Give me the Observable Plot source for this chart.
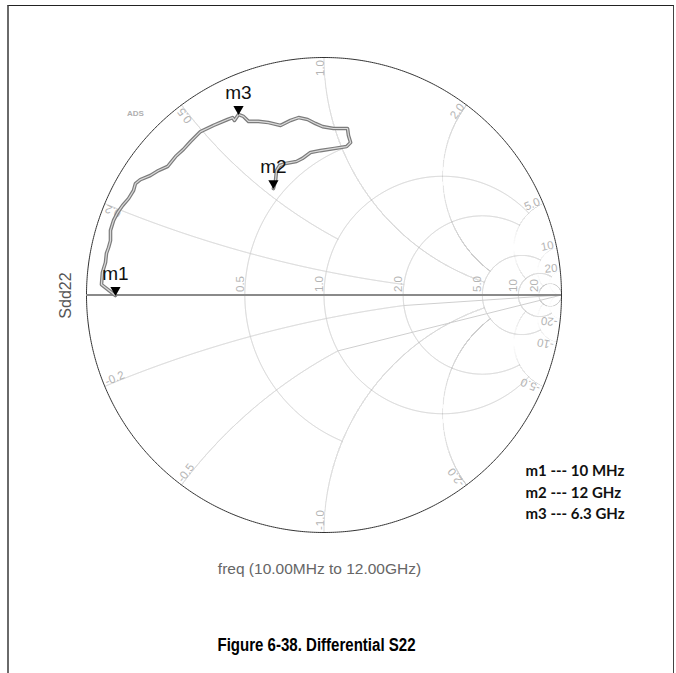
<!DOCTYPE html>
<html><head><meta charset="utf-8">
<script src="https://cdn.jsdelivr.net/npm/d3@7"></script>
<script src="https://cdn.jsdelivr.net/npm/@observablehq/plot@0.6"></script>
<style>
body{margin:0;background:#fff;}
#wrap{position:relative;width:676px;height:673px;overflow:hidden;background:#fff;}
#frame{position:absolute;left:7px;top:5px;width:664px;height:700px;border-top:1.5px solid #222;border-left:2px solid #6a6a6a;border-right:1.5px solid #444;pointer-events:none;}
#chart{position:absolute;left:0;top:0;}
</style></head><body>
<div id="wrap"><div id="chart"></div><div id="frame"></div></div>
<script>
const traceRe = [-0.878,-0.937,-0.933,-0.920,-0.916,-0.907,-0.899,-0.899,-0.886,-0.869,-0.848,-0.823,-0.802,-0.794,-0.773,-0.731,-0.697,-0.659,-0.625,-0.592,-0.562,-0.520,-0.465,-0.406,-0.385,-0.377,-0.360,-0.339,-0.318,-0.276,-0.234,-0.183,-0.141,-0.107,-0.069,-0.036,-0.006,0.040,0.099,0.103,0.112,0.095,0.044,-0.015,-0.057,-0.091,-0.116,-0.162,-0.187,-0.200,-0.204,-0.213];
const traceIm = [-0.002,0.044,0.095,0.137,0.175,0.200,0.229,0.272,0.314,0.347,0.377,0.406,0.440,0.469,0.486,0.503,0.524,0.541,0.583,0.613,0.646,0.688,0.714,0.739,0.747,0.735,0.760,0.752,0.731,0.731,0.726,0.714,0.735,0.747,0.739,0.722,0.709,0.701,0.701,0.672,0.642,0.625,0.617,0.608,0.600,0.575,0.562,0.554,0.545,0.524,0.482,0.448];
const markerNames = ["m1","m2","m3"];
const markerIndex = [0, 51, 26];
const markerFreqs = ["10 MHz","12 GHz","6.3 GHz"];
const resistanceValues = [0.5, 1, 2, 5, 10, 20];
const resistanceLabels = ["0.5","1.0","2.0","5.0","10","20"];
const resistanceClip = [1, 5, 5, 10, 20, Infinity];
const reactanceValues = [0.2, 0.5, 1, 2, 5, 10, 20];
const reactanceLabels = ["0.2","0.5","1.0","2.0","5.0","10","20"];
const reactanceClip = [2, 1, 5, 5, 10, 20, Infinity];
const traceName = "Sdd22";
const sweepText = "freq (10.00MHz to 12.00GHz)";
const figureCaption = "Figure 6-38. Differential S22";
const toolTag = "ADS";

// ---- build tables ----
const trace = traceRe.map((re, i) => ({re, im: traceIm[i]}));
const markers = markerNames.map((name, i) => ({name, ...trace[markerIndex[i]]}));
const legendText = markerNames.map((n, i) => `${n} --- ${markerFreqs[i]}`).join("\n");

function zOf(gx, gy) { const d = (1 - gx) ** 2 + gy ** 2; return [(1 - gx * gx - gy * gy) / d, 2 * gy / d]; }
const grid = [];
resistanceValues.forEach((r, i) => {
  const cx = r / (r + 1), rad = 1 / (r + 1), X = resistanceClip[i], N = 3000;
  for (let k = 1; k < N; k++) {
    const p = 2 * Math.PI * k / N, gx = cx + rad * Math.cos(p), gy = rad * Math.sin(p);
    const [, xx] = zOf(gx, gy);
    if (Math.abs(xx) <= X * 1.0005) grid.push({gx, gy, id: "r" + r});
  }
});
reactanceValues.forEach((xv, i) => {
  [xv, -xv].forEach(x => {
    const cy = 1 / x, rad = 1 / Math.abs(x), R = reactanceClip[i], N = 30000;
    for (let k = 0; k < N; k++) {
      const p = 2 * Math.PI * k / N, gx = 1 + rad * Math.cos(p), gy = cy + rad * Math.sin(p);
      if (gx * gx + gy * gy > 1.000001) continue;
      const [rr] = zOf(gx, gy);
      if (rr <= R * 1.0005) grid.push({gx, gy, id: "x" + x});
    }
  });
});
const outer = d3.range(0, 721).map(k => ({gx: Math.cos(k * Math.PI / 360), gy: Math.sin(k * Math.PI / 360)}));

const axisLabels = resistanceValues.map((r, i) => ({gx: (r - 1) / (r + 1), gy: 0, t: resistanceLabels[i]}));
const edgeLabels = [];
reactanceValues.forEach((x, i) => {
  [1, -1].forEach(s => {
    const xs = s * x, d = xs * xs + 1;
    const bx = (xs * xs - 1) / d, by = 2 * xs / d;
    const th = Math.atan2(by, bx) * 180 / Math.PI;
    const k = 1 - 2.5 / 237.5;
    edgeLabels.push({gx: bx * k, gy: by * k, t: (s < 0 ? "-" : "") + reactanceLabels[i], rot: s > 0 ? -th : -th - 180, anchor: s > 0 ? "end" : "start"});
  });
});

const W = 676, H = 673, CX = 323.5, CY = 294.5, RAD = 237.5;
const font = "Liberation Sans, Arial, sans-serif";
const gridColor = "#cfcfcf";
const labelColor = "#b4b4b4";

const chart = Plot.plot({
  width: W, height: H, margin: 0,
  x: {domain: [-CX / RAD, (W - CX) / RAD], axis: null},
  y: {domain: [-(H - CY) / RAD, CY / RAD], axis: null},
  style: {fontFamily: font, background: "white"},
  marks: [
    Plot.line(grid, {x: "gx", y: "gy", z: "id", stroke: gridColor, strokeWidth: 1}),
    Plot.line(outer, {x: "gx", y: "gy", stroke: "#333", strokeWidth: 1}),
    Plot.ruleY([0], {x1: -1, x2: 1, stroke: "#8a8a8a", strokeWidth: 2}),
    Plot.text(axisLabels, {x: "gx", y: "gy", text: "t", rotate: -90, textAnchor: "start", lineAnchor: "bottom", dx: -1, dy: -3, fill: labelColor, fontSize: 11.5}),
    Plot.text(edgeLabels.filter(d => d.anchor === "end"), {x: "gx", y: "gy", text: "t", rotate: "rot", textAnchor: "end", lineAnchor: "bottom", fill: labelColor, fontSize: 11.5}),
    Plot.text(edgeLabels.filter(d => d.anchor === "start"), {x: "gx", y: "gy", text: "t", rotate: "rot", textAnchor: "start", lineAnchor: "bottom", fill: labelColor, fontSize: 11.5}),
    Plot.line(trace, {x: "re", y: "im", stroke: "#7c7c7c", strokeWidth: 3.6, strokeLinejoin: "round"}),
    Plot.line(trace, {x: "re", y: "im", stroke: "#dadada", strokeWidth: 1.2, strokeLinejoin: "round"}),
    Plot.dot(markers, {x: "re", y: "im", symbol: "triangle", rotate: 180, r: 3.8, fill: "black", stroke: "none", dy: -5.5}),
    Plot.text(markers, {x: "re", y: "im", text: "name", dy: -22, fontSize: 19, fill: "#111"}),
    Plot.text([toolTag], {frameAnchor: "top-left", dx: 135, dy: 110, textAnchor: "middle", fontSize: 8, fontWeight: "bold", fill: "#b0b0b0"}),
    Plot.text([traceName], {frameAnchor: "top-left", dx: 59, dy: 295, textAnchor: "middle", rotate: -90, fontSize: 16, fill: "#555"}),
    Plot.text([sweepText], {frameAnchor: "top-left", dx: 319, dy: 562, textAnchor: "middle", fontSize: 15.5, fill: "#666"}),
    Plot.text([legendText], {frameAnchor: "top-left", dx: 525, dy: 460, textAnchor: "start", lineAnchor: "top", lineHeight: 1.45, fontSize: 15, fontWeight: "bold", fontFamily: "Lato, Carlito, sans-serif", fill: "#111"}),
    Plot.text([figureCaption], {frameAnchor: "top-left", dx: 316, dy: 638, textAnchor: "middle", fontSize: 18, fontWeight: "bold", fill: "#000", className: "fig-caption"})
  ]
});
// condensed look of the caption face
d3.select(chart).selectAll(".fig-caption text").attr("textLength", 198).attr("lengthAdjust", "spacingAndGlyphs");
document.getElementById("chart").appendChild(chart);
</script>
</body></html>
